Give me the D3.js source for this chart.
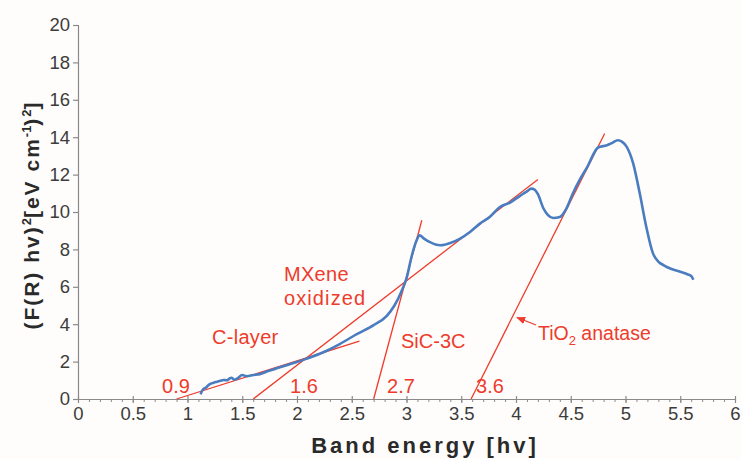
<!DOCTYPE html>
<html><head><meta charset="utf-8">
<script src="https://cdn.jsdelivr.net/npm/d3@7"></script>
<style>
html,body{margin:0;padding:0;background:#fffdfb;}
svg{display:block;font-family:"Liberation Sans",Arial,sans-serif;}
</style></head>
<body><svg id="c" width="741" height="459"></svg>
<script>
const energy = [1.12,1.13,1.14,1.17,1.20,1.24,1.27,1.30,1.33,1.36,1.38,1.40,1.43,1.46,1.50,1.54,1.60,1.66,1.73,1.81,1.89,1.97,2.09,2.24,2.39,2.55,2.70,2.82,2.89,2.95,3.00,3.05,3.09,3.12,3.16,3.21,3.31,3.40,3.49,3.58,3.67,3.76,3.85,3.95,4.04,4.10,4.14,4.17,4.20,4.25,4.29,4.34,4.40,4.46,4.52,4.58,4.65,4.75,4.83,4.88,4.93,4.97,5.01,5.07,5.13,5.19,5.25,5.30,5.35,5.42,5.50,5.57,5.60,5.62];
const absorb = [0.25,0.40,0.50,0.62,0.78,0.87,0.92,0.97,1.02,1.00,1.08,1.14,1.03,1.12,1.28,1.22,1.28,1.33,1.48,1.63,1.78,1.92,2.16,2.50,2.94,3.48,3.95,4.45,5.00,5.70,6.45,7.70,8.45,8.75,8.58,8.40,8.22,8.34,8.58,8.93,9.38,9.73,10.25,10.52,10.88,11.10,11.25,11.20,10.95,10.20,9.85,9.68,9.73,10.18,11.00,11.70,12.40,13.45,13.57,13.70,13.84,13.75,13.50,12.60,11.00,9.20,7.80,7.35,7.15,6.95,6.80,6.66,6.58,6.38];

// tangent lines: x-intercept, end x, end y
const tangentNames = ["C-layer","MXene oxidized","SiC-3C","TiO2 anatase"];
const tangentX0 = [0.9, 1.6, 2.7, 3.59];
const tangentX1 = [2.57, 4.20, 3.14, 4.81];
const tangentY1 = [3.1, 11.74, 9.56, 14.2];
const interceptLabels = ["0.9","1.6","2.7","3.6"];

const xTicks = [0,0.5,1,1.5,2,2.5,3,3.5,4,4.5,5,5.5,6];
const yTicks = [0,2,4,6,8,10,12,14,16,18,20];

const svg = d3.select("#c");
const x = d3.scaleLinear().domain([0,6]).range([78,735]);
const y = d3.scaleLinear().domain([0,20]).range([399,25]);
const red = "#ee3b2c";
const axisCol = "#8a8a8a";
const txtCol = "#3c3c3c";
const FF = "Liberation Sans, Arial, sans-serif";

// Y axis
const yAx = svg.append("g").attr("transform",`translate(${x(0)},0)`)
  .call(d3.axisLeft(y).tickValues(yTicks).tickFormat(d3.format("d")).tickSize(5).tickPadding(3));
yAx.select(".domain").attr("stroke",axisCol).attr("stroke-width",1.2);
yAx.selectAll(".tick line").attr("stroke",axisCol).attr("stroke-width",1.2);
yAx.selectAll(".tick text").attr("fill",txtCol).style("font-size","18.5px").style("font-family",FF);

// X axis minor ticks
const xMinor = d3.range(0,61).map(i=>i/10);
const xMin = svg.append("g").attr("transform",`translate(0,${y(0)})`)
  .call(d3.axisBottom(x).tickValues(xMinor).tickFormat("").tickSize(3).tickSizeOuter(0));
xMin.select(".domain").attr("stroke",axisCol).attr("stroke-width",1.2);
xMin.selectAll(".tick line").attr("stroke",axisCol).attr("stroke-width",1);
// X axis major
const xAx = svg.append("g").attr("transform",`translate(0,${y(0)})`)
  .call(d3.axisBottom(x).tickValues(xTicks).tickFormat(d3.format("")).tickSize(4).tickPadding(4).tickSizeOuter(0));
xAx.select(".domain").remove();
xAx.selectAll(".tick line").attr("stroke",axisCol).attr("stroke-width",1.2).attr("y1",-3);
xAx.selectAll(".tick text").attr("fill",txtCol).style("font-size","18.5px").style("font-family",FF);

// tangent lines
tangentX0.forEach((x0,i)=>{
  svg.append("line").attr("x1",x(x0)).attr("y1",y(0)).attr("x2",x(tangentX1[i])).attr("y2",y(tangentY1[i]))
    .attr("stroke",red).attr("stroke-width",1.3);
});

// data curve
const pts = energy.map((e,i)=>[e,absorb[i]]);
svg.append("path").datum(pts)
  .attr("d", d3.line().x(d=>x(d[0])).y(d=>y(d[1])).curve(d3.curveMonotoneX))
  .attr("fill","none").attr("stroke","#4a7cc0").attr("stroke-width",2.6).attr("stroke-linejoin","round");

// intercept labels
const lblPos = [176,304,401,490];
interceptLabels.forEach((t,i)=>{
  svg.append("text").attr("x",lblPos[i]).attr("y",393).attr("text-anchor","middle")
    .attr("fill",red).style("font-size","20px").text(t);
});

// series annotations
function lab(tx,px,py,ls){svg.append("text").attr("x",px).attr("y",py).attr("fill",red)
  .style("font-size","20px").style("letter-spacing",(ls||0)+"px").text(tx);}
lab("C-layer",212,344,0.3);
lab("MXene",284,281,0.3);
lab("oxidized",284,305,1.1);
lab("SiC-3C",401,348,0);
const ti = svg.append("text").attr("x",538).attr("y",340).attr("fill",red).style("font-size","19.5px");
ti.append("tspan").text("TiO");
ti.append("tspan").attr("dy",5).style("font-size","13px").text("2");
ti.append("tspan").attr("dy",-5).text(" anatase");
// arrow
svg.append("defs").append("marker").attr("id","ah").attr("viewBox","0 0 10 10").attr("refX",9).attr("refY",5)
  .attr("markerWidth",7).attr("markerHeight",7).attr("orient","auto")
  .append("path").attr("d","M0,1 L10,5 L0,9 Z").attr("fill",red);
svg.append("line").attr("x1",536).attr("y1",325).attr("x2",517).attr("y2",317.5)
  .attr("stroke",red).attr("stroke-width",1.3).attr("marker-end","url(#ah)");

// axis titles
svg.append("text").attr("x",425).attr("y",453).attr("text-anchor","middle").attr("fill","#2a2a2a")
  .style("font-size","22px").style("font-weight","bold").style("letter-spacing","3px").text("Band energy [hv]");
const yt = svg.append("text").attr("transform","translate(39,215) rotate(-90)").attr("text-anchor","middle")
  .attr("fill","#2a2a2a").style("font-size","21px").style("font-weight","bold").style("letter-spacing","2px");
yt.append("tspan").text("(F(R) hv)");
yt.append("tspan").attr("dy",-8).style("font-size","13px").style("letter-spacing","0px").text("2");
yt.append("tspan").attr("dy",8).text("[eV cm");
yt.append("tspan").attr("dy",-8).style("font-size","13px").style("letter-spacing","0px").text("-1");
yt.append("tspan").attr("dy",8).text(")");
yt.append("tspan").attr("dy",-8).style("font-size","13px").style("letter-spacing","0px").text("2");
yt.append("tspan").attr("dy",8).text("]");
</script></body></html>
